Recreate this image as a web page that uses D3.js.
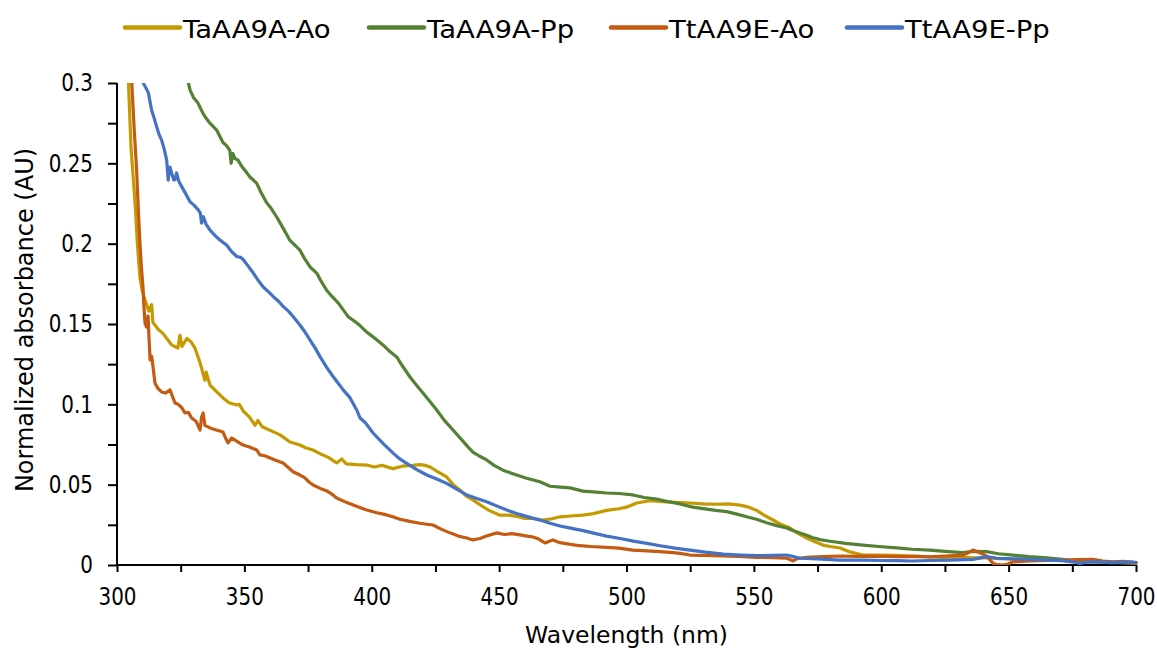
<!DOCTYPE html>
<html>
<head>
<meta charset="utf-8">
<script src="https://cdn.jsdelivr.net/npm/d3@7"></script>
<style>
    body { margin: 0; background: #fff; }
    #chart { width: 1157px; height: 650px; }
    text { font-family: "DejaVu Sans", Verdana, sans-serif; fill: #000; }
</style>
</head>
<body>
<div id="chart"></div>
<script>

// series names, colours
let seriesNames = ["TaAA9A-Ao", "TaAA9A-Pp", "TtAA9E-Ao", "TtAA9E-Pp"];
let seriesColors = ["#C49A00", "#548235", "#C55A11", "#4472C4"];

// tick labels
let xTicks = [300, 350, 400, 450, 500, 550, 600, 650, 700];
let yTicks = [0, 0.05, 0.1, 0.15, 0.2, 0.25, 0.3];

// [wavelength nm, normalized absorbance]
let taAo = [[303.6,0.34],[304.5,0.30],[305.5,0.26],[307.1,0.225],[308,0.2],[309,0.179],[310,0.17],[311,0.165],[312.5,0.158],[313.6,0.162],[314.1,0.151],[316,0.147],[318.1,0.144],[320,0.14],[321.5,0.137],[323.9,0.135],[324.7,0.143],[325.5,0.136],[327.4,0.141],[329,0.139],[330.6,0.135],[332.6,0.126],[334.5,0.115],[335,0.12],[336.5,0.112],[339,0.108],[341.6,0.104],[344,0.101],[347,0.0996],[348,0.1],[349.5,0.096],[352,0.092],[354.2,0.087],[355.3,0.09],[357,0.086],[361.2,0.083],[364,0.081],[367.9,0.0766],[371.8,0.0747],[374,0.073],[376.9,0.0716],[380,0.069],[383,0.067],[386.2,0.0635],[388.2,0.066],[390,0.063],[394,0.0625],[398,0.0622],[401,0.061],[404,0.062],[408.3,0.060],[412,0.0615],[416,0.062],[418.9,0.0625],[421,0.062],[422.9,0.061],[426,0.058],[429.4,0.0548],[432,0.05],[434.6,0.0467],[437,0.043],[439.7,0.0405],[443,0.037],[446,0.034],[450.3,0.031],[454,0.031],[457.4,0.030],[460,0.029],[463.3,0.029],[467,0.028],[470,0.0285],[473.9,0.030],[478,0.0305],[482.9,0.031],[487,0.032],[492.2,0.034],[497,0.035],[500,0.036],[504,0.0386],[509.2,0.040],[514,0.0395],[519,0.039],[524.9,0.0386],[530,0.038],[535,0.0378],[540,0.038],[544.6,0.0373],[548,0.036],[551.1,0.034],[554,0.031],[557.5,0.028],[561,0.025],[564.2,0.023],[567,0.02],[570.7,0.0168],[574,0.0145],[577.1,0.0124],[580,0.0115],[583.8,0.0106],[588,0.008],[592.8,0.0062],[600,0.0062],[606.1,0.006],[612,0.0055],[619.1,0.005],[625,0.0048],[630,0.005],[636,0.0044],[641,0.0045],[646.6,0.004],[655,0.0035],[666.2,0.003],[675,0.0025],[685.9,0.002],[692,0.0018],[700,0.001]];

let taPp = [[326.5,0.315],[327.9,0.3008],[328.7,0.2956],[330,0.291],[331.8,0.2875],[333.8,0.281],[335,0.278],[336.5,0.275],[339.1,0.2707],[341.6,0.263],[343,0.261],[344.3,0.258],[344.8,0.250],[345.5,0.256],[346.3,0.253],[347.5,0.252],[349,0.248],[350.5,0.245],[352.2,0.2415],[354.8,0.2377],[356.5,0.232],[358.8,0.2253],[360.5,0.222],[362.7,0.2166],[365.2,0.2097],[367.9,0.202],[371.8,0.196],[373.5,0.191],[375.8,0.1855],[378.4,0.1817],[380,0.177],[382.3,0.171],[384.5,0.167],[386.9,0.163],[390.8,0.1544],[393,0.152],[395.4,0.149],[398,0.145],[400.5,0.142],[404.4,0.137],[407,0.133],[409.8,0.1295],[412,0.124],[415,0.117],[417.5,0.112],[420.1,0.107],[423,0.1015],[425.5,0.0965],[428.5,0.09],[431.9,0.084],[435,0.0785],[437.5,0.074],[439.7,0.0703],[442,0.068],[445.1,0.0654],[448,0.062],[451.5,0.059],[456,0.0565],[460.8,0.054],[466,0.0518],[470,0.049],[474,0.0485],[477.8,0.048],[482.9,0.046],[487,0.0455],[492.2,0.0448],[497,0.0445],[502.5,0.0436],[507,0.042],[511.9,0.041],[516,0.0395],[521,0.038],[526,0.036],[531.5,0.0348],[535,0.034],[539.3,0.0332],[543,0.0318],[547.2,0.030],[551,0.0285],[555,0.0263],[559,0.0245],[562.9,0.023],[565.5,0.0213],[568.1,0.0199],[571,0.0183],[573.2,0.017],[576,0.0158],[579.9,0.0148],[586,0.0135],[592.8,0.0124],[599,0.0115],[606.1,0.0106],[612,0.0098],[619.1,0.0093],[625,0.0085],[632.1,0.0077],[636,0.0085],[641.4,0.0083],[646,0.007],[651.7,0.0062],[658,0.0052],[664.9,0.0044],[671,0.0035],[678,0.002],[684,0.0025],[690,0.0015],[697.6,0.0014],[700,0.0015]];

let ttAo = [[305,0.34],[305.8,0.30],[306.8,0.27],[307.7,0.246],[308.4,0.22],[309,0.2004],[309.6,0.185],[310.2,0.173],[310.6,0.16],[311,0.1506],[311.6,0.148],[312.2,0.155],[312.6,0.14],[313,0.1276],[313.6,0.13],[314.1,0.124],[314.9,0.1133],[316,0.11],[317.5,0.1077],[319,0.107],[320.8,0.109],[322,0.104],[322.8,0.1008],[324,0.1],[325.4,0.098],[326.7,0.0946],[328,0.095],[329.3,0.0915],[331,0.0895],[332.6,0.084],[333.2,0.092],[333.8,0.0946],[334.5,0.087],[336.5,0.0853],[339,0.084],[341.6,0.0828],[342.6,0.079],[343.6,0.076],[345,0.079],[346.3,0.0778],[348,0.076],[349.5,0.0747],[352,0.0735],[354.8,0.0716],[356.1,0.0685],[358,0.068],[360.1,0.0666],[362.5,0.065],[365.2,0.0635],[367,0.061],[369.1,0.058],[371.8,0.056],[373.5,0.0545],[375.5,0.0515],[377,0.0498],[380,0.0475],[382.5,0.046],[384.8,0.0436],[386.2,0.0417],[390,0.039],[394,0.0365],[398,0.0342],[402,0.0325],[405,0.0315],[408.3,0.030],[411,0.0285],[414,0.0275],[416,0.0268],[418.9,0.026],[421,0.0255],[424,0.0249],[427,0.0225],[430.7,0.020],[434,0.018],[437.3,0.0168],[439.7,0.0156],[442.5,0.0165],[445,0.018],[447,0.019],[449.1,0.020],[452,0.019],[455,0.0195],[458.2,0.0187],[461,0.018],[463.3,0.0174],[465,0.0165],[468,0.0137],[470,0.015],[471.1,0.0156],[473.9,0.0139],[478,0.0128],[481.7,0.012],[486,0.0115],[492.2,0.011],[497,0.0105],[502.5,0.0093],[508,0.0088],[513,0.0083],[518.3,0.0077],[521,0.0072],[524.9,0.0062],[530,0.006],[537.9,0.0056],[544,0.0053],[551.1,0.0048],[557,0.0045],[563,0.0042],[565.4,0.0025],[567,0.004],[570.7,0.0048],[577,0.0052],[583.8,0.0056],[590,0.0054],[597,0.0055],[606.1,0.0052],[613,0.0054],[619,0.005],[625,0.0056],[632.1,0.0062],[634,0.0075],[636,0.0093],[638.5,0.0078],[641.4,0.0055],[643.9,0.001],[645.5,0.0002],[647.8,0.0],[650,0.0008],[651.7,0.002],[655,0.0022],[658.4,0.0025],[665,0.0028],[671.3,0.003],[677,0.0033],[683.1,0.0035],[687,0.0025],[691,0.002],[695,0.0022],[700,0.0015]];

let ttPp = [[309.2,0.32],[310.3,0.30],[311.3,0.297],[312.3,0.294],[313.6,0.283],[314.6,0.278],[315.6,0.2726],[316.5,0.268],[317.5,0.2645],[318.5,0.259],[319.5,0.252],[320.1,0.2396],[320.5,0.246],[320.8,0.2477],[321.6,0.243],[322.3,0.2396],[322.8,0.24],[323.4,0.244],[324.2,0.239],[325.4,0.2355],[327,0.231],[328.7,0.226],[330.2,0.224],[331.9,0.221],[332.7,0.219],[333.2,0.2128],[333.9,0.2168],[335,0.212],[336.5,0.2085],[338.5,0.205],[340.4,0.2023],[343.1,0.199],[345,0.195],[347,0.192],[348.5,0.1915],[349.6,0.19],[351.5,0.186],[353.5,0.1817],[355.5,0.177],[357.4,0.173],[359.5,0.17],[361.4,0.167],[363.5,0.164],[365.3,0.1608],[367.3,0.158],[369.2,0.1545],[371.8,0.1494],[373.8,0.145],[375.8,0.14],[377.8,0.135],[379.7,0.1297],[382.3,0.123],[384.9,0.1172],[386.9,0.113],[388.8,0.109],[391.5,0.104],[394.1,0.0965],[395.4,0.0915],[397.5,0.0885],[400.6,0.082],[404.5,0.0755],[408.5,0.0695],[411,0.066],[413.7,0.0633],[417.5,0.0595],[421.6,0.056],[425.5,0.0535],[429.4,0.0508],[433.5,0.047],[437.3,0.0436],[441,0.0415],[445.1,0.0394],[449,0.0368],[453,0.0342],[458,0.0315],[463.4,0.029],[467,0.0275],[470,0.026],[473.9,0.0243],[478.5,0.0228],[483,0.0214],[487.5,0.0197],[492.2,0.018],[497.5,0.0165],[502.7,0.0149],[508,0.0135],[513.2,0.012],[519,0.0105],[524.9,0.0093],[531,0.008],[538,0.0068],[545,0.0062],[551.1,0.0058],[557,0.006],[562.9,0.0062],[565.5,0.0052],[568.1,0.0042],[575,0.0038],[583.8,0.003],[592.8,0.003],[600,0.0028],[606.1,0.0027],[612,0.0025],[619.1,0.0028],[627,0.003],[636,0.0035],[641.4,0.0052],[645.3,0.0042],[652,0.0038],[658.4,0.0035],[665,0.003],[671.3,0.0027],[675,0.002],[678,0.001],[681,0.0018],[684.6,0.002],[690,0.0015],[697.6,0.002],[700,0.0015]];

let seriesData = [taAo, taPp, ttAo, ttPp];

// legend x positions of the swatches
let legendX = [125, 369, 611, 847];


let margin = {top: 83, right: 21, bottom: 85, left: 117};
let width = 1157 - margin.left - margin.right;
let height = 650 - margin.top - margin.bottom;

let svg = d3.select("#chart").append("svg")
    .attr("width", 1157)
    .attr("height", 650);

let g = svg.append("g")
    .attr("transform", `translate(${margin.left}, ${margin.top})`);

// scales
let x = d3.scaleLinear()
    .domain([xTicks[0], xTicks[xTicks.length - 1]])
    .range([0, width]);

let y = d3.scaleLinear()
    .domain([yTicks[0], yTicks[yTicks.length - 1]])
    .range([height, 0]);

// clip so curves that run off the top get cut at 0.3
g.append("clipPath")
    .attr("id", "plot-clip")
    .append("rect")
    .attr("x", 0)
    .attr("y", 0)
    .attr("width", width + 2)
    .attr("height", height);

// minor ticks every half step, labels only on majors
let xMinor = d3.range(xTicks[0], xTicks[xTicks.length - 1] + 1, 25);
let yMinor = d3.range(0, 0.3001, 0.025);

let xAxis = d3.axisBottom(x)
    .tickValues(xMinor)
    .tickSize(7)
    .tickPadding(16)
    .tickFormat(d => xTicks.includes(d) ? d : "");

let yAxis = d3.axisLeft(y)
    .tickValues(yMinor)
    .tickSize(9)
    .tickPadding(15)
    .tickFormat(d => {
        let m = yTicks.find(t => Math.abs(t - d) < 1e-6);
        return m === undefined ? "" : d3.format("")(m);
    });

let xGroup = g.append("g")
    .attr("class", "axis x-axis")
    .attr("transform", `translate(0, ${height})`)
    .call(xAxis);

let yGroup = g.append("g")
    .attr("class", "axis y-axis")
    .call(yAxis);

// Excel-like tall narrow labels: bigger font, squeezed horizontally
let tickScale = 0.83;
[xGroup, yGroup].forEach(ax => {
    ax.select(".domain").attr("stroke", "#000").attr("stroke-width", 2);
    ax.selectAll(".tick line").attr("stroke", "#000").attr("stroke-width", 2);
    ax.selectAll(".tick text")
        .style("font-size", "24px")
        .style("font-family", "'DejaVu Sans', Verdana, sans-serif")
        .attr("fill", "#000")
        .each(function () {
            let t = d3.select(this);
            let tx = +t.attr("x") || 0;
            t.attr("x", 0).attr("transform", `translate(${tx},0) scale(${tickScale},1)`);
        });
});
xGroup.select(".domain").attr("d", `M0,0H${width}`);
yGroup.select(".domain").attr("d", `M0,${height}V0`);

// lines
let line = d3.line()
    .x(d => x(d[0]))
    .y(d => y(d[1]));

g.append("g")
    .attr("clip-path", "url(#plot-clip)")
    .selectAll("path")
    .data(seriesData)
    .enter()
    .append("path")
    .attr("d", line)
    .attr("fill", "none")
    .attr("stroke", (d, i) => seriesColors[i])
    .attr("stroke-width", 3.2)
    .attr("stroke-linejoin", "round")
    .attr("stroke-linecap", "round");

// axis titles
svg.append("text")
    .attr("x", margin.left + width / 2)
    .attr("y", 643)
    .attr("text-anchor", "middle")
    .style("font-size", "23.5px")
    .text("Wavelength (nm)");

svg.append("text")
    .attr("transform", `translate(33, ${margin.top + height / 2 - 4}) rotate(-90)`)
    .attr("text-anchor", "middle")
    .style("font-size", "24px")
    .text("Normalized absorbance (AU)");

// legend
let legend = svg.append("g").attr("class", "legend");
let items = legend.selectAll("g")
    .data(seriesNames)
    .enter()
    .append("g")
    .attr("transform", (d, i) => `translate(${legendX[i]}, 27.5)`);

items.append("line")
    .attr("x1", 0).attr("x2", 55)
    .attr("y1", 0).attr("y2", 0)
    .attr("stroke", (d, i) => seriesColors[i])
    .attr("stroke-width", 4.5)
    .attr("stroke-linecap", "round");

items.append("text")
    .attr("transform", "translate(58, 10.5) scale(1.1, 1)")
    .style("font-size", "25px")
    .text(d => d);

</script>
</body>
</html>
